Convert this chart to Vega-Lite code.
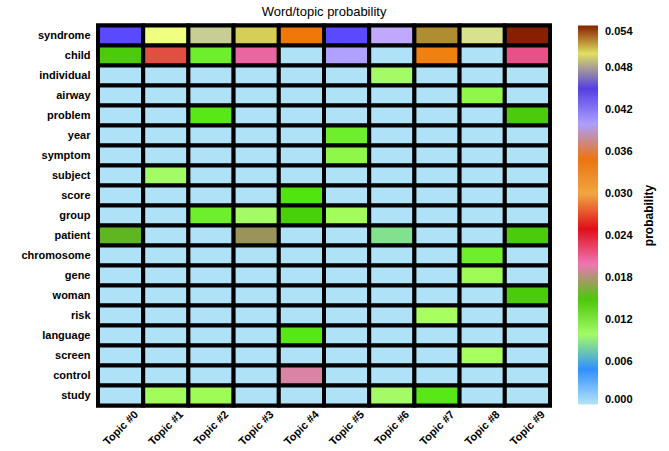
{
  "$schema": "https://vega.github.io/schema/vega-lite/v6.json",
  "width": 452,
  "height": 380,
  "autosize": "none",
  "padding": {"left": 98, "top": 25.5, "right": 119, "bottom": 45.5},
  "background": "white",
  "config": {
    "view": {"stroke": "black", "strokeWidth": 4},
    "font": "Liberation Sans"
  },
  "title": {"text": "Word/topic probability", "fontSize": 13, "fontWeight": "normal", "font": "Liberation Sans", "color": "black", "offset": 5, "anchor": "middle"},
  "data": {"values": [
    {"word": "syndrome", "topic": "Topic #0", "p": 0.0430},
    {"word": "syndrome", "topic": "Topic #1", "p": 0.0486},
    {"word": "syndrome", "topic": "Topic #2", "p": 0.0474},
    {"word": "syndrome", "topic": "Topic #3", "p": 0.0503},
    {"word": "syndrome", "topic": "Topic #4", "p": 0.0340},
    {"word": "syndrome", "topic": "Topic #5", "p": 0.0430},
    {"word": "syndrome", "topic": "Topic #6", "p": 0.0390},
    {"word": "syndrome", "topic": "Topic #7", "p": 0.0514},
    {"word": "syndrome", "topic": "Topic #8", "p": 0.0479},
    {"word": "syndrome", "topic": "Topic #9", "p": 0.0540},
    {"word": "child", "topic": "Topic #0", "p": 0.0148},
    {"word": "child", "topic": "Topic #1", "p": 0.0269},
    {"word": "child", "topic": "Topic #2", "p": 0.0121},
    {"word": "child", "topic": "Topic #3", "p": 0.0205},
    {"word": "child", "topic": "Topic #4", "p": 0.0002},
    {"word": "child", "topic": "Topic #5", "p": 0.0398},
    {"word": "child", "topic": "Topic #6", "p": 0.0002},
    {"word": "child", "topic": "Topic #7", "p": 0.0333},
    {"word": "child", "topic": "Topic #8", "p": 0.0002},
    {"word": "child", "topic": "Topic #9", "p": 0.0211},
    {"word": "individual", "topic": "Topic #0", "p": 0.0002},
    {"word": "individual", "topic": "Topic #1", "p": 0.0002},
    {"word": "individual", "topic": "Topic #2", "p": 0.0002},
    {"word": "individual", "topic": "Topic #3", "p": 0.0002},
    {"word": "individual", "topic": "Topic #4", "p": 0.0002},
    {"word": "individual", "topic": "Topic #5", "p": 0.0002},
    {"word": "individual", "topic": "Topic #6", "p": 0.0100},
    {"word": "individual", "topic": "Topic #7", "p": 0.0002},
    {"word": "individual", "topic": "Topic #8", "p": 0.0002},
    {"word": "individual", "topic": "Topic #9", "p": 0.0002},
    {"word": "airway", "topic": "Topic #0", "p": 0.0002},
    {"word": "airway", "topic": "Topic #1", "p": 0.0002},
    {"word": "airway", "topic": "Topic #2", "p": 0.0002},
    {"word": "airway", "topic": "Topic #3", "p": 0.0002},
    {"word": "airway", "topic": "Topic #4", "p": 0.0002},
    {"word": "airway", "topic": "Topic #5", "p": 0.0002},
    {"word": "airway", "topic": "Topic #6", "p": 0.0002},
    {"word": "airway", "topic": "Topic #7", "p": 0.0002},
    {"word": "airway", "topic": "Topic #8", "p": 0.0111},
    {"word": "airway", "topic": "Topic #9", "p": 0.0002},
    {"word": "problem", "topic": "Topic #0", "p": 0.0002},
    {"word": "problem", "topic": "Topic #1", "p": 0.0002},
    {"word": "problem", "topic": "Topic #2", "p": 0.0128},
    {"word": "problem", "topic": "Topic #3", "p": 0.0002},
    {"word": "problem", "topic": "Topic #4", "p": 0.0002},
    {"word": "problem", "topic": "Topic #5", "p": 0.0002},
    {"word": "problem", "topic": "Topic #6", "p": 0.0002},
    {"word": "problem", "topic": "Topic #7", "p": 0.0002},
    {"word": "problem", "topic": "Topic #8", "p": 0.0002},
    {"word": "problem", "topic": "Topic #9", "p": 0.0148},
    {"word": "year", "topic": "Topic #0", "p": 0.0002},
    {"word": "year", "topic": "Topic #1", "p": 0.0002},
    {"word": "year", "topic": "Topic #2", "p": 0.0002},
    {"word": "year", "topic": "Topic #3", "p": 0.0002},
    {"word": "year", "topic": "Topic #4", "p": 0.0002},
    {"word": "year", "topic": "Topic #5", "p": 0.0121},
    {"word": "year", "topic": "Topic #6", "p": 0.0002},
    {"word": "year", "topic": "Topic #7", "p": 0.0002},
    {"word": "year", "topic": "Topic #8", "p": 0.0002},
    {"word": "year", "topic": "Topic #9", "p": 0.0002},
    {"word": "symptom", "topic": "Topic #0", "p": 0.0002},
    {"word": "symptom", "topic": "Topic #1", "p": 0.0002},
    {"word": "symptom", "topic": "Topic #2", "p": 0.0002},
    {"word": "symptom", "topic": "Topic #3", "p": 0.0002},
    {"word": "symptom", "topic": "Topic #4", "p": 0.0002},
    {"word": "symptom", "topic": "Topic #5", "p": 0.0111},
    {"word": "symptom", "topic": "Topic #6", "p": 0.0002},
    {"word": "symptom", "topic": "Topic #7", "p": 0.0002},
    {"word": "symptom", "topic": "Topic #8", "p": 0.0002},
    {"word": "symptom", "topic": "Topic #9", "p": 0.0002},
    {"word": "subject", "topic": "Topic #0", "p": 0.0002},
    {"word": "subject", "topic": "Topic #1", "p": 0.0100},
    {"word": "subject", "topic": "Topic #2", "p": 0.0002},
    {"word": "subject", "topic": "Topic #3", "p": 0.0002},
    {"word": "subject", "topic": "Topic #4", "p": 0.0002},
    {"word": "subject", "topic": "Topic #5", "p": 0.0002},
    {"word": "subject", "topic": "Topic #6", "p": 0.0002},
    {"word": "subject", "topic": "Topic #7", "p": 0.0002},
    {"word": "subject", "topic": "Topic #8", "p": 0.0002},
    {"word": "subject", "topic": "Topic #9", "p": 0.0002},
    {"word": "score", "topic": "Topic #0", "p": 0.0002},
    {"word": "score", "topic": "Topic #1", "p": 0.0002},
    {"word": "score", "topic": "Topic #2", "p": 0.0002},
    {"word": "score", "topic": "Topic #3", "p": 0.0002},
    {"word": "score", "topic": "Topic #4", "p": 0.0131},
    {"word": "score", "topic": "Topic #5", "p": 0.0002},
    {"word": "score", "topic": "Topic #6", "p": 0.0002},
    {"word": "score", "topic": "Topic #7", "p": 0.0002},
    {"word": "score", "topic": "Topic #8", "p": 0.0002},
    {"word": "score", "topic": "Topic #9", "p": 0.0002},
    {"word": "group", "topic": "Topic #0", "p": 0.0002},
    {"word": "group", "topic": "Topic #1", "p": 0.0002},
    {"word": "group", "topic": "Topic #2", "p": 0.0121},
    {"word": "group", "topic": "Topic #3", "p": 0.0100},
    {"word": "group", "topic": "Topic #4", "p": 0.0145},
    {"word": "group", "topic": "Topic #5", "p": 0.0105},
    {"word": "group", "topic": "Topic #6", "p": 0.0002},
    {"word": "group", "topic": "Topic #7", "p": 0.0002},
    {"word": "group", "topic": "Topic #8", "p": 0.0002},
    {"word": "group", "topic": "Topic #9", "p": 0.0002},
    {"word": "patient", "topic": "Topic #0", "p": 0.0159},
    {"word": "patient", "topic": "Topic #1", "p": 0.0002},
    {"word": "patient", "topic": "Topic #2", "p": 0.0002},
    {"word": "patient", "topic": "Topic #3", "p": 0.0177},
    {"word": "patient", "topic": "Topic #4", "p": 0.0002},
    {"word": "patient", "topic": "Topic #5", "p": 0.0002},
    {"word": "patient", "topic": "Topic #6", "p": 0.0080},
    {"word": "patient", "topic": "Topic #7", "p": 0.0002},
    {"word": "patient", "topic": "Topic #8", "p": 0.0002},
    {"word": "patient", "topic": "Topic #9", "p": 0.0148},
    {"word": "chromosome", "topic": "Topic #0", "p": 0.0002},
    {"word": "chromosome", "topic": "Topic #1", "p": 0.0002},
    {"word": "chromosome", "topic": "Topic #2", "p": 0.0002},
    {"word": "chromosome", "topic": "Topic #3", "p": 0.0002},
    {"word": "chromosome", "topic": "Topic #4", "p": 0.0002},
    {"word": "chromosome", "topic": "Topic #5", "p": 0.0002},
    {"word": "chromosome", "topic": "Topic #6", "p": 0.0002},
    {"word": "chromosome", "topic": "Topic #7", "p": 0.0002},
    {"word": "chromosome", "topic": "Topic #8", "p": 0.0121},
    {"word": "chromosome", "topic": "Topic #9", "p": 0.0002},
    {"word": "gene", "topic": "Topic #0", "p": 0.0002},
    {"word": "gene", "topic": "Topic #1", "p": 0.0002},
    {"word": "gene", "topic": "Topic #2", "p": 0.0002},
    {"word": "gene", "topic": "Topic #3", "p": 0.0002},
    {"word": "gene", "topic": "Topic #4", "p": 0.0002},
    {"word": "gene", "topic": "Topic #5", "p": 0.0002},
    {"word": "gene", "topic": "Topic #6", "p": 0.0002},
    {"word": "gene", "topic": "Topic #7", "p": 0.0002},
    {"word": "gene", "topic": "Topic #8", "p": 0.0106},
    {"word": "gene", "topic": "Topic #9", "p": 0.0002},
    {"word": "woman", "topic": "Topic #0", "p": 0.0002},
    {"word": "woman", "topic": "Topic #1", "p": 0.0002},
    {"word": "woman", "topic": "Topic #2", "p": 0.0002},
    {"word": "woman", "topic": "Topic #3", "p": 0.0002},
    {"word": "woman", "topic": "Topic #4", "p": 0.0002},
    {"word": "woman", "topic": "Topic #5", "p": 0.0002},
    {"word": "woman", "topic": "Topic #6", "p": 0.0002},
    {"word": "woman", "topic": "Topic #7", "p": 0.0002},
    {"word": "woman", "topic": "Topic #8", "p": 0.0002},
    {"word": "woman", "topic": "Topic #9", "p": 0.0148},
    {"word": "risk", "topic": "Topic #0", "p": 0.0002},
    {"word": "risk", "topic": "Topic #1", "p": 0.0002},
    {"word": "risk", "topic": "Topic #2", "p": 0.0002},
    {"word": "risk", "topic": "Topic #3", "p": 0.0002},
    {"word": "risk", "topic": "Topic #4", "p": 0.0002},
    {"word": "risk", "topic": "Topic #5", "p": 0.0002},
    {"word": "risk", "topic": "Topic #6", "p": 0.0002},
    {"word": "risk", "topic": "Topic #7", "p": 0.0103},
    {"word": "risk", "topic": "Topic #8", "p": 0.0002},
    {"word": "risk", "topic": "Topic #9", "p": 0.0002},
    {"word": "language", "topic": "Topic #0", "p": 0.0002},
    {"word": "language", "topic": "Topic #1", "p": 0.0002},
    {"word": "language", "topic": "Topic #2", "p": 0.0002},
    {"word": "language", "topic": "Topic #3", "p": 0.0002},
    {"word": "language", "topic": "Topic #4", "p": 0.0129},
    {"word": "language", "topic": "Topic #5", "p": 0.0002},
    {"word": "language", "topic": "Topic #6", "p": 0.0002},
    {"word": "language", "topic": "Topic #7", "p": 0.0002},
    {"word": "language", "topic": "Topic #8", "p": 0.0002},
    {"word": "language", "topic": "Topic #9", "p": 0.0002},
    {"word": "screen", "topic": "Topic #0", "p": 0.0002},
    {"word": "screen", "topic": "Topic #1", "p": 0.0002},
    {"word": "screen", "topic": "Topic #2", "p": 0.0002},
    {"word": "screen", "topic": "Topic #3", "p": 0.0002},
    {"word": "screen", "topic": "Topic #4", "p": 0.0002},
    {"word": "screen", "topic": "Topic #5", "p": 0.0002},
    {"word": "screen", "topic": "Topic #6", "p": 0.0002},
    {"word": "screen", "topic": "Topic #7", "p": 0.0002},
    {"word": "screen", "topic": "Topic #8", "p": 0.0103},
    {"word": "screen", "topic": "Topic #9", "p": 0.0002},
    {"word": "control", "topic": "Topic #0", "p": 0.0002},
    {"word": "control", "topic": "Topic #1", "p": 0.0002},
    {"word": "control", "topic": "Topic #2", "p": 0.0002},
    {"word": "control", "topic": "Topic #3", "p": 0.0002},
    {"word": "control", "topic": "Topic #4", "p": 0.0192},
    {"word": "control", "topic": "Topic #5", "p": 0.0002},
    {"word": "control", "topic": "Topic #6", "p": 0.0002},
    {"word": "control", "topic": "Topic #7", "p": 0.0002},
    {"word": "control", "topic": "Topic #8", "p": 0.0002},
    {"word": "control", "topic": "Topic #9", "p": 0.0002},
    {"word": "study", "topic": "Topic #0", "p": 0.0002},
    {"word": "study", "topic": "Topic #1", "p": 0.0105},
    {"word": "study", "topic": "Topic #2", "p": 0.0106},
    {"word": "study", "topic": "Topic #3", "p": 0.0002},
    {"word": "study", "topic": "Topic #4", "p": 0.0002},
    {"word": "study", "topic": "Topic #5", "p": 0.0002},
    {"word": "study", "topic": "Topic #6", "p": 0.0100},
    {"word": "study", "topic": "Topic #7", "p": 0.0128},
    {"word": "study", "topic": "Topic #8", "p": 0.0002},
    {"word": "study", "topic": "Topic #9", "p": 0.0002}
  ]},
  "mark": {"type": "rect", "stroke": "black", "strokeWidth": 4},
  "encoding": {
    "x": {
      "field": "topic", "type": "nominal", "sort": null,
      "scale": {"paddingInner": 0, "paddingOuter": 0},
      "axis": {"title": null, "domain": false, "ticks": false, "labelAngle": -45, "labelAlign": "right", "labelBaseline": "middle", "labelOffset": 16, "labelPadding": 7, "labelFont": "Liberation Sans", "labelFontWeight": "bold", "labelFontSize": 11, "labelColor": "black"}
    },
    "y": {
      "field": "word", "type": "nominal",
      "sort": ["syndrome", "child", "individual", "airway", "problem", "year", "symptom", "subject", "score", "group", "patient", "chromosome", "gene", "woman", "risk", "language", "screen", "control", "study"],
      "scale": {"paddingInner": 0, "paddingOuter": 0},
      "axis": {"title": null, "domain": false, "ticks": false, "labelPadding": 8, "labelFont": "Liberation Sans", "labelFontWeight": "bold", "labelFontSize": 11, "labelColor": "black"}
    },
    "fill": {
      "field": "p", "type": "quantitative", "title": "probability",
      "scale": {
        "type": "linear",
        "domain": [0, 0.0026, 0.005, 0.0064, 0.0079, 0.0103, 0.0136, 0.0154, 0.0179, 0.0197, 0.0221, 0.0246, 0.0269, 0.0293, 0.0304, 0.0347, 0.0367, 0.039, 0.0414, 0.0443, 0.0467, 0.0486, 0.05, 0.0519, 0.054],
        "range": ["#b4e4f8", "#70c0f0", "#3090ff", "#40a0c0", "#80e090", "#a8ff60", "#40e000", "#50c010", "#a09060", "#f080c0", "#e03060", "#e00010", "#e05040", "#f0b060", "#f0a030", "#f07000", "#d09070", "#c0a8ff", "#9090ff", "#3010ff", "#b0b0a0", "#f0ff80", "#e0e060", "#a07020", "#882000"],
        "interpolate": "rgb"
      },
      "legend": {
        "orient": "right", "offset": 28, "type": "gradient", "direction": "vertical",
        "gradientLength": 379, "gradientThickness": 20, "gradientStrokeWidth": 0,
        "values": [0, 0.006, 0.012, 0.018, 0.024, 0.03, 0.036, 0.042, 0.048, 0.054],
        "format": ".3f", "labelFont": "Liberation Sans", "labelFontWeight": "bold", "labelFontSize": 11, "labelColor": "black", "labelOffset": 7,
        "titleOrient": "right", "titleAnchor": "middle", "titleFont": "Liberation Sans", "titleFontWeight": "bold", "titleFontSize": 12, "titleColor": "black", "titlePadding": 8,
        "encode": {"title": {"update": {"angle": {"value": 270}, "dy": {"value": 15}}}}
      }
    }
  }
}
